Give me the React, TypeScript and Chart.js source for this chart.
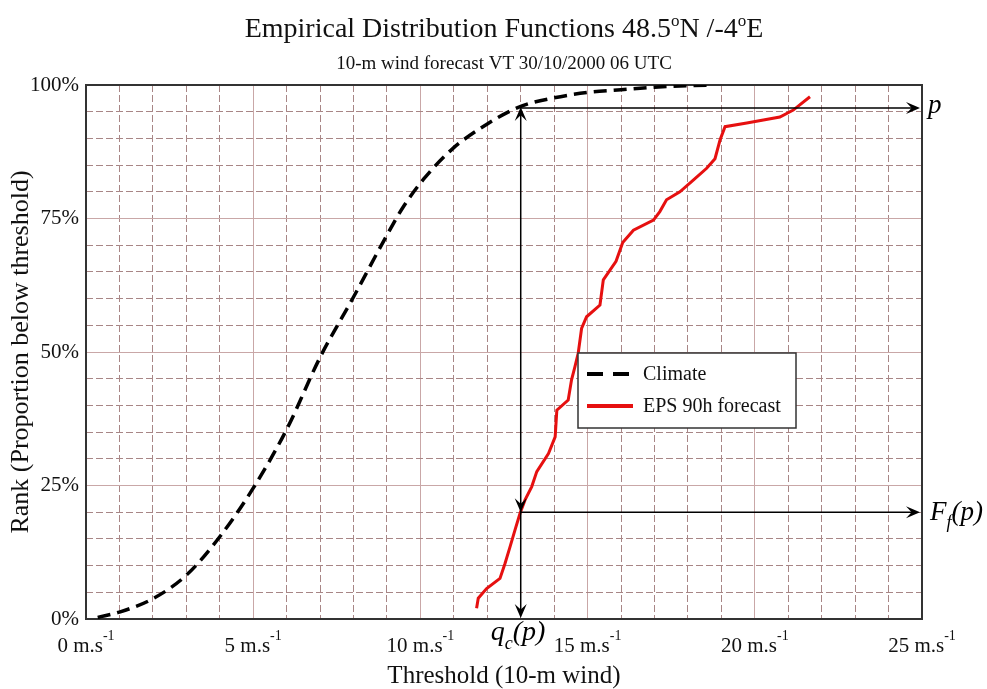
import React, { useEffect, useRef } from 'react';
import { Chart, registerables } from 'chart.js';

Chart.register(...registerables);

const SERIF = '"Liberation Serif", "Times New Roman", Times, serif';

// ---- text ----
const TITLE_TEXT = ['Empirical Distribution Functions 48.5', 'o', 'N /-4', 'o', 'E'];
const SUBTITLE_TEXT = '10-m wind forecast VT 30/10/2000 06 UTC';
const X_TITLE = 'Threshold (10-m wind)';
const Y_TITLE = 'Rank (Proportion below threshold)';
const X_UNIT = 'm.s';
const X_UNIT_EXP = '-1';
const X_TICK_VALUES = [0, 5, 10, 15, 20, 25];
const Y_TICK_VALUES = [0, 25, 50, 75, 100];
const SERIES_LABELS = ['Climate', 'EPS 90h forecast'];

// ---- data ----
const CLIMATE_SPEED = [0.35, 1, 2, 3, 4, 5, 6, 7, 8, 9, 9.5, 10.1, 10.95, 12, 13, 14, 15, 16, 17, 18.7];
const CLIMATE_RANK = [0.3, 1.3, 3.8, 8.2, 15.4, 24.5, 35.5, 49.0, 60.3, 71.9, 77.3, 82.4, 88.0, 92.7, 96.0, 97.6, 98.6, 99.1, 99.6, 100];

const EPS_SPEED = [11.68, 11.73, 11.98, 12.38, 12.53, 12.68, 12.83, 12.98, 13.13, 13.33, 13.48, 13.83, 14.03, 14.08, 14.42, 14.52, 14.62, 14.72, 14.82, 14.97, 15.37, 15.47, 15.85, 16.05, 16.37, 16.97, 17.16, 17.36, 17.76, 18.16, 18.56, 18.81, 18.96, 19.11, 19.76, 20.75, 21.15, 21.65];
const EPS_RANK = [2.0, 3.9, 5.7, 7.6, 10.4, 13.5, 16.7, 19.8, 22.3, 24.8, 27.6, 31.0, 34.1, 39.1, 41.0, 44.8, 47.2, 49.8, 54.4, 56.6, 58.8, 63.5, 67.0, 70.5, 72.8, 74.7, 76.3, 78.5, 80.0, 82.2, 84.4, 86.2, 89.7, 92.2, 92.9, 94.0, 95.3, 97.8];

// annotation values
const Q_C = 13;       // threshold q_c(p)
const P_LEVEL = 95.7; // p
const FF_LEVEL = 20;  // F_f(p)
const X_MIN = 0, X_MAX = 25, Y_MIN = 0, Y_MAX = 100;

const GRID_DASHED = '#a88686';
const GRID_SOLID = '#c9a7a7';
const RED = '#e61010';

type Seg = { text: string; font: string; dy: number };

function drawSegs(ctx: CanvasRenderingContext2D, segs: Seg[], x: number, baseline: number, align: 'left' | 'center') {
  let total = 0;
  for (const s of segs) { ctx.font = s.font; total += ctx.measureText(s.text).width; }
  let cx = align === 'center' ? x - total / 2 : x;
  ctx.textAlign = 'left';
  ctx.textBaseline = 'alphabetic';
  for (const s of segs) {
    ctx.font = s.font;
    ctx.fillText(s.text, cx, baseline + s.dy);
    cx += ctx.measureText(s.text).width;
  }
}

function arrowHead(ctx: CanvasRenderingContext2D, x: number, y: number, angle: number) {
  const len = 14, half = 6;
  ctx.save();
  ctx.translate(x, y);
  ctx.rotate(angle);
  ctx.beginPath();
  ctx.moveTo(0, 0);
  ctx.lineTo(-len, -half);
  ctx.lineTo(-len * 0.6, 0);
  ctx.lineTo(-len, half);
  ctx.closePath();
  ctx.fill();
  ctx.restore();
}

const decor = {
  id: 'decor',
  beforeDraw(chart: any) {
    const { ctx, width, height } = chart;
    ctx.save();
    ctx.fillStyle = '#fff';
    ctx.fillRect(0, 0, width, height);
    ctx.restore();
  },
  beforeDatasetsDraw(chart: any) {
    const { ctx, chartArea: a } = chart;
    ctx.save();
    ctx.strokeStyle = '#333';
    ctx.lineWidth = 2;
    ctx.strokeRect(a.left, a.top, a.right - a.left, a.bottom - a.top);
    ctx.restore();
  },
  afterDatasetsDraw(chart: any) {
    const { ctx } = chart;
    const xs = chart.scales.x, ys = chart.scales.y;
    const qx = xs.getPixelForValue(Q_C);
    const py = ys.getPixelForValue(P_LEVEL);
    const fy = ys.getPixelForValue(FF_LEVEL);
    const xr = xs.getPixelForValue(X_MAX) - 2;
    const yb = ys.getPixelForValue(Y_MIN) - 1;
    ctx.save();
    ctx.strokeStyle = '#000';
    ctx.fillStyle = '#000';
    ctx.lineWidth = 1.5;
    ctx.beginPath();
    ctx.moveTo(qx, py + 4); ctx.lineTo(qx, yb - 4);
    ctx.moveTo(qx, py); ctx.lineTo(xr - 4, py);
    ctx.moveTo(qx, fy); ctx.lineTo(xr - 4, fy);
    ctx.stroke();
    arrowHead(ctx, qx, py - 1, -Math.PI / 2);
    arrowHead(ctx, qx, fy, Math.PI / 2);
    arrowHead(ctx, qx, yb, Math.PI / 2);
    arrowHead(ctx, xr, py, 0);
    arrowHead(ctx, xr, fy, 0);

    // annotation labels
    const it = (s: number) => `italic ${s}px ${SERIF}`;
    drawSegs(ctx, [{ text: 'p', font: it(27), dy: 0 }], xr + 8, py + 5, 'left');
    drawSegs(ctx, [
      { text: 'F', font: it(27), dy: 0 },
      { text: 'f', font: it(18), dy: 8 },
      { text: '(p)', font: it(27), dy: 0 },
    ], xr + 10, fy + 8, 'left');
    drawSegs(ctx, [
      { text: 'q', font: it(28), dy: 0 },
      { text: 'c', font: it(18), dy: 9 },
      { text: '(p)', font: it(28), dy: 0 },
    ], qx - 30, yb + 22, 'left');

    // legend
    const L = { x: 578, y: 353, w: 218, h: 75 };
    ctx.fillStyle = '#fff';
    ctx.fillRect(L.x, L.y, L.w, L.h);
    ctx.strokeStyle = '#333';
    ctx.lineWidth = 1.5;
    ctx.strokeRect(L.x, L.y, L.w, L.h);
    chart.data.datasets.forEach((ds: any, i: number) => {
      const ry = L.y + 21 + i * 32;
      ctx.save();
      ctx.strokeStyle = ds.borderColor;
      ctx.lineWidth = 4;
      ctx.setLineDash(ds.borderDash ? [16, 10] : []);
      ctx.beginPath();
      ctx.moveTo(L.x + 9, ry);
      ctx.lineTo(L.x + 55, ry);
      ctx.stroke();
      ctx.restore();
      ctx.fillStyle = '#111';
      ctx.font = `20px ${SERIF}`;
      ctx.textAlign = 'left';
      ctx.textBaseline = 'middle';
      ctx.fillText(ds.label, L.x + 65, ry + 1);
    });
    ctx.restore();
  },
  afterDraw(chart: any) {
    const { ctx, chartArea: a } = chart;
    const xs = chart.scales.x;
    const cx = (a.left + a.right) / 2;
    ctx.save();
    ctx.fillStyle = '#111';
    const f = (s: number) => `${s}px ${SERIF}`;
    drawSegs(ctx, TITLE_TEXT.map((t, i) => ({ text: t, font: i % 2 === 1 ? f(17) : f(28), dy: i % 2 === 1 ? -11 : 0 })), cx, 37, 'center');
    drawSegs(ctx, [{ text: SUBTITLE_TEXT, font: f(19), dy: 0 }], cx, 69, 'center');
    // x tick labels with superscript exponent
    for (const t of xs.ticks) {
      if (!X_TICK_VALUES.includes(t.value)) continue;
      const px = xs.getPixelForValue(t.value);
      drawSegs(ctx, [
        { text: `${t.value} ${X_UNIT}`, font: f(21), dy: 0 },
        { text: X_UNIT_EXP, font: f(14), dy: -12 },
      ], px, a.bottom + 33, 'center');
    }
    ctx.restore();
  },
};

export default function App() {
  const ref = useRef<HTMLCanvasElement>(null);
  useEffect(() => {
    const canvas = ref.current!;
    const chart = new Chart(canvas, {
      type: 'line',
      data: {
        datasets: [
          {
            label: SERIES_LABELS[0],
            data: CLIMATE_SPEED.map((x, i) => ({ x, y: CLIMATE_RANK[i] })),
            borderColor: '#000',
            borderWidth: 3.5,
            borderDash: [13, 7],
            pointRadius: 0,
            cubicInterpolationMode: 'monotone',
            fill: false,
          },
          {
            label: SERIES_LABELS[1],
            data: EPS_SPEED.map((x, i) => ({ x, y: EPS_RANK[i] })),
            borderColor: RED,
            borderWidth: 3,
            pointRadius: 0,
            tension: 0,
            fill: false,
          },
        ],
      } as any,
      options: {
        animation: false,
        responsive: true,
        maintainAspectRatio: false,
        layout: { padding: { left: 0, right: 65, top: 85, bottom: 0 } },
        plugins: {
          legend: { display: false },
          title: { display: false },
          tooltip: { enabled: false },
        },
        scales: {
          x: {
            type: 'linear',
            min: X_MIN,
            max: X_MAX,
            afterFit: (s: any) => { s.height = 70; },
            ticks: { stepSize: 1, display: false, autoSkip: false, maxTicksLimit: 100 },
            grid: {
              drawTicks: false,
              color: (c: any) => (c.tick && c.tick.value % 5 === 0 ? GRID_SOLID : GRID_DASHED),
              lineWidth: 1,
            },
            border: {
              display: false,
              dash: (c: any) => (c.tick && c.tick.value % 5 === 0 ? [] : [7, 3]),
            },
            title: {
              display: true,
              text: X_TITLE,
              color: '#111',
              font: { family: SERIF, size: 25, lineHeight: 1 },
              padding: { top: 0, bottom: 0 },
            },
          },
          y: {
            type: 'linear',
            min: Y_MIN,
            max: Y_MAX,
            afterFit: (s: any) => { s.width = 86; },
            ticks: {
              stepSize: 5,
              autoSkip: false,
              maxTicksLimit: 100,
              padding: 7,
              color: '#111',
              font: { family: SERIF, size: 21 },
              callback: (v: any) => (Y_TICK_VALUES.includes(Number(v)) ? `${v}%` : ''),
            },
            grid: {
              drawTicks: false,
              color: (c: any) => (c.tick && c.tick.value % 25 === 0 ? GRID_SOLID : GRID_DASHED),
              lineWidth: 1,
            },
            border: {
              display: false,
              dash: (c: any) => (c.tick && c.tick.value % 25 === 0 ? [] : [7, 3]),
            },
            title: {
              display: true,
              text: Y_TITLE,
              color: '#111',
              font: { family: SERIF, size: 26, lineHeight: 1 },
              padding: { top: 8, bottom: 0 },
            },
          },
        },
      } as any,
      plugins: [decor],
    });
    return () => chart.destroy();
  }, []);
  return (
    <div style={{ position: 'fixed', left: 0, top: 0, width: 987, height: 689, background: '#fff' }}>
      <canvas ref={ref} />
    </div>
  );
}
